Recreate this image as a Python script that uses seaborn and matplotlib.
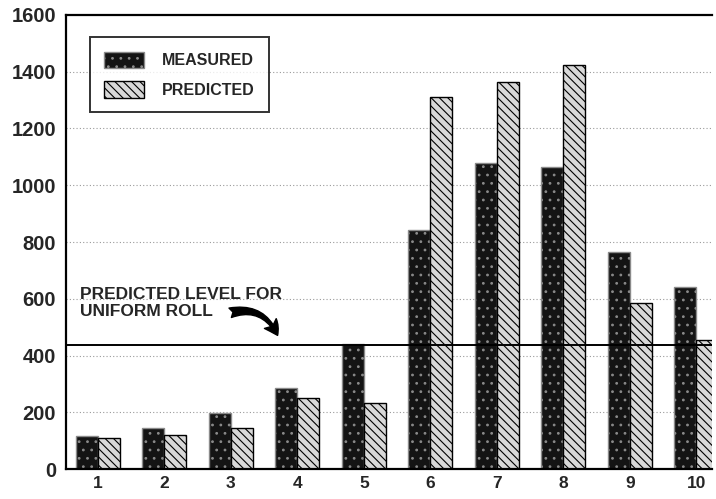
import matplotlib
matplotlib.use('Agg')
import matplotlib.pyplot as plt
from matplotlib.patches import Patch
import seaborn as sns
import pandas as pd

# values
rolls = [1, 2, 3, 4, 5, 6, 7, 8, 9, 10]
measured = [117, 145, 197, 287, 440, 842, 1079, 1065, 766, 643]
predicted = [111, 120, 143, 252, 232, 1310, 1365, 1422, 585, 456]
uniform_level = 438
series_names = ['MEASURED', 'PREDICTED']
y_ticks = [0, 200, 400, 600, 800, 1000, 1200, 1400, 1600]

df = pd.DataFrame({
    'roll': rolls * 2,
    'series': [series_names[0]] * len(rolls) + [series_names[1]] * len(rolls),
    'count': measured + predicted,
})

sns.set_style('white')
plt.rcParams['font.family'] = ['Liberation Sans', 'DejaVu Sans']
plt.rcParams['hatch.linewidth'] = 0.8

fig = plt.figure(figsize=(7.16, 4.99), dpi=100)
ax = fig.add_axes([0.092, 0.06, 0.902, 0.91])

sns.barplot(data=df, x='roll', y='count', hue='series', hue_order=series_names,
            palette=['#141414', '#d8d8d8'], width=0.66, ax=ax, legend=False,
            edgecolor='black', linewidth=1.0)

# stipple for measured, diagonal stripes for predicted
styles = [('..', '#141414', '#8a8a8a'), ('\\\\\\\\', '#d8d8d8', 'black')]
for cont, (hatch, fc, ec) in zip(ax.containers, styles):
    for bar in cont:
        bar.set_hatch(hatch)
        bar.set_facecolor(fc)
        bar.set_edgecolor(ec)

# faint dotted grid
for yv in y_ticks[1:-1]:
    ax.axhline(yv, color='#9a9a9a', linestyle=(0, (1, 2)), linewidth=0.8, zorder=0)

ax.axhline(uniform_level, color='black', linewidth=1.4, zorder=3)

ax.set_xlim(-0.48, 9.23)
ax.set_ylim(0, 1600)
ax.set_yticks(y_ticks)
ax.set_yticklabels([str(v) for v in y_ticks], fontsize=14.5, fontweight='bold')
ax.set_xticks(range(len(rolls)))
ax.set_xticklabels([str(r) for r in rolls], fontsize=12.5, fontweight='bold')
ax.set_xlabel('')
ax.set_ylabel('')
ax.tick_params(axis='y', direction='in', length=4, width=1.2, pad=7)
ax.tick_params(axis='x', length=0, pad=5)

for side in ['left', 'top', 'bottom']:
    ax.spines[side].set_visible(True)
    ax.spines[side].set_color('black')
    ax.spines[side].set_linewidth(1.6)
ax.spines['right'].set_visible(False)

ax.text(-0.27, 585, 'PREDICTED LEVEL FOR\nUNIFORM ROLL', fontsize=12.5,
        fontweight='bold', va='center', ha='left', linespacing=1.2)
ax.annotate('', xy=(2.72, 462), xytext=(1.95, 548),
            arrowprops=dict(arrowstyle='fancy,head_length=1.0,head_width=1.1,tail_width=0.7',
                            connectionstyle='arc3,rad=-0.45', color='black'))

handles = [Patch(facecolor='#141414', edgecolor='#8a8a8a', hatch='..'),
           Patch(facecolor='#d8d8d8', edgecolor='black', hatch='\\\\\\\\')]
leg = ax.legend(handles, series_names, loc='upper left', bbox_to_anchor=(0.025, 0.968),
                frameon=True, fancybox=False, edgecolor='black', handlelength=2.5,
                handleheight=1.2, borderpad=0.9, labelspacing=0.8, handletextpad=1.1,
                prop={'weight': 'bold', 'size': 11.5})
leg.get_frame().set_linewidth(1.4)

fig.savefig('out.png', dpi=100, facecolor='white')
